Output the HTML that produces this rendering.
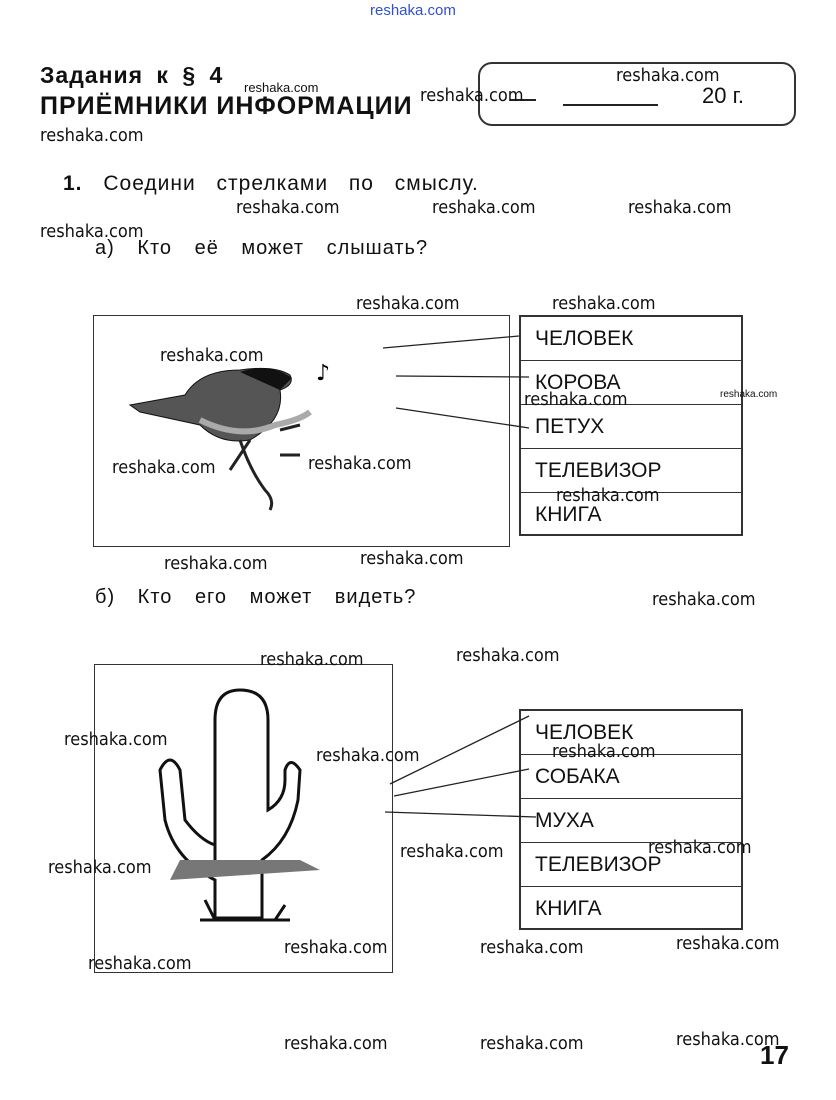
<!DOCTYPE html>
<html><head><meta charset="utf-8"><style>
body{margin:0;width:836px;height:1100px;background:#fff;position:relative;overflow:hidden;font-family:"Liberation Sans",sans-serif;color:#111}
.a{position:absolute;white-space:nowrap}
.w{position:absolute;font-size:18px;color:#111;white-space:nowrap;font-family:"DejaVu Sans Condensed","Liberation Sans",sans-serif}
.t{position:absolute;border:2px solid #333;box-sizing:border-box}
.c{position:absolute;left:0;width:100%;height:44px;border-bottom:1.5px solid #333;box-sizing:border-box;font-size:21px;padding-left:14px;line-height:44px}
</style></head><body>
<div class="a" style="left:370px;top:2px;font-size:15px;color:#3050d0">reshaka.com</div>
<div class="a" style="left:40px;top:62px;font-size:23px;font-weight:bold;letter-spacing:1px;word-spacing:6px">Задания к § 4</div>
<div class="a" style="left:40px;top:92px;font-size:25px;font-weight:bold;letter-spacing:1px">ПРИЁМНИКИ ИНФОРМАЦИИ</div>
<div class="a" style="left:244px;top:80px;font-size:13px">reshaka.com</div>
<div style="position:absolute;left:478px;top:62px;width:314px;height:60px;border:2px solid #333;border-radius:14px"></div>
<div class="a" style="left:510px;top:99px;width:26px;border-top:2px solid #222"></div>
<div class="a" style="left:563px;top:104px;width:95px;border-top:2px solid #222"></div>
<div class="a" style="left:702px;top:83px;font-size:22px">20 г.</div>
<div class="a" style="left:63px;top:172px;font-size:21px;letter-spacing:1px;word-spacing:14px"><b>1.</b> Соедини стрелками по смыслу.</div>
<div class="a" style="left:95px;top:237px;font-size:20px;letter-spacing:1px;word-spacing:16px">а) Кто её может слышать?</div>
<div class="a" style="left:95px;top:586px;font-size:20px;letter-spacing:1px;word-spacing:16px">б) Кто его может видеть?</div>
<div class="a" style="left:760px;top:1040px;font-size:26px;font-weight:bold">17</div>

<div style="position:absolute;left:93px;top:315px;width:417px;height:232px;border:1.5px solid #333;box-sizing:border-box"></div>
<div style="position:absolute;left:94px;top:664px;width:299px;height:309px;border:1.5px solid #333;box-sizing:border-box"></div>

<div class="t" style="left:519px;top:315px;width:224px;height:221px">
<div class="c" style="top:0">ЧЕЛОВЕК</div><div class="c" style="top:44px">КОРОВА</div><div class="c" style="top:88px">ПЕТУХ</div><div class="c" style="top:132px">ТЕЛЕВИЗОР</div><div class="c" style="top:176px;border:0">КНИГА</div></div>
<div class="t" style="left:519px;top:709px;width:224px;height:221px">
<div class="c" style="top:0">ЧЕЛОВЕК</div><div class="c" style="top:44px">СОБАКА</div><div class="c" style="top:88px">МУХА</div><div class="c" style="top:132px">ТЕЛЕВИЗОР</div><div class="c" style="top:176px;border:0">КНИГА</div></div>

<svg width="836" height="1100" style="position:absolute;left:0;top:0">
<g stroke="#222" stroke-width="1.3" fill="none">
<line x1="383" y1="348" x2="519" y2="336"/><line x1="396" y1="376" x2="529" y2="377"/><line x1="396" y1="408" x2="529" y2="428"/>
<line x1="390" y1="784" x2="529" y2="716"/><line x1="394" y1="796" x2="529" y2="769"/><line x1="385" y1="812" x2="536" y2="817"/>
</g>
<!-- bird -->
<path d="M130,405 L185,395 Q200,370 240,370 Q275,365 290,375 Q295,385 280,390 Q285,420 250,440 Q220,445 200,425 L140,412 Z" fill="#555" stroke="#111"/>
<path d="M240,372 Q270,362 292,378 L280,390 Z" fill="#111"/>
<path d="M200,420 Q240,440 275,425 Q300,420 310,412" stroke="#aaa" stroke-width="6" fill="none"/>
<path d="M240,440 Q250,470 265,490 Q275,500 270,510 M250,440 L230,470 M280,430 L300,425 M280,455 L300,455" stroke="#222" stroke-width="3" fill="none"/>
<text x="316" y="380" font-size="22" font-family="DejaVu Sans">♪</text>
<!-- cactus -->
<path d="M215,870 L215,720 Q215,690 240,690 Q268,690 268,720 L268,810 Q285,800 285,780 L285,770 Q290,755 300,770 L298,800 Q290,840 262,860 L262,918 L215,918 L215,880 Q175,860 165,820 L160,770 Q170,750 180,770 L185,820 Q200,840 215,845 Z" fill="#fff" stroke="#111" stroke-width="3"/>
<path d="M180,860 L300,860 L320,870 L170,880 Z" fill="#777"/>
<path d="M200,920 L290,920 M205,900 L215,920 M285,905 L275,920" stroke="#111" stroke-width="3"/>
</svg>

<div class="w" style="left:616px;top:65px">reshaka.com</div>
<div class="w" style="left:420px;top:85px">reshaka.com</div>
<div class="w" style="left:40px;top:125px">reshaka.com</div>
<div class="w" style="left:236px;top:197px">reshaka.com</div>
<div class="w" style="left:432px;top:197px">reshaka.com</div>
<div class="w" style="left:628px;top:197px">reshaka.com</div>
<div class="w" style="left:40px;top:221px">reshaka.com</div>
<div class="w" style="left:356px;top:293px">reshaka.com</div>
<div class="w" style="left:552px;top:293px">reshaka.com</div>
<div class="w" style="left:160px;top:345px">reshaka.com</div>
<div class="w" style="left:524px;top:389px">reshaka.com</div>
<div class="a" style="left:720px;top:389px;font-size:10px">reshaka.com</div>
<div class="w" style="left:112px;top:457px">reshaka.com</div>
<div class="w" style="left:308px;top:453px">reshaka.com</div>
<div class="w" style="left:556px;top:485px">reshaka.com</div>
<div class="w" style="left:164px;top:553px">reshaka.com</div>
<div class="w" style="left:360px;top:548px">reshaka.com</div>
<div class="w" style="left:652px;top:589px">reshaka.com</div>
<div class="w" style="left:260px;top:649px">reshaka.com</div>
<div class="w" style="left:456px;top:645px">reshaka.com</div>
<div class="w" style="left:64px;top:729px">reshaka.com</div>
<div class="w" style="left:316px;top:745px">reshaka.com</div>
<div class="w" style="left:552px;top:741px">reshaka.com</div>
<div class="w" style="left:400px;top:841px">reshaka.com</div>
<div class="w" style="left:648px;top:837px">reshaka.com</div>
<div class="w" style="left:48px;top:857px">reshaka.com</div>
<div class="w" style="left:284px;top:937px">reshaka.com</div>
<div class="w" style="left:480px;top:937px">reshaka.com</div>
<div class="w" style="left:676px;top:933px">reshaka.com</div>
<div class="w" style="left:88px;top:953px">reshaka.com</div>
<div class="w" style="left:284px;top:1033px">reshaka.com</div>
<div class="w" style="left:480px;top:1033px">reshaka.com</div>
<div class="w" style="left:676px;top:1029px">reshaka.com</div>
</body></html>
